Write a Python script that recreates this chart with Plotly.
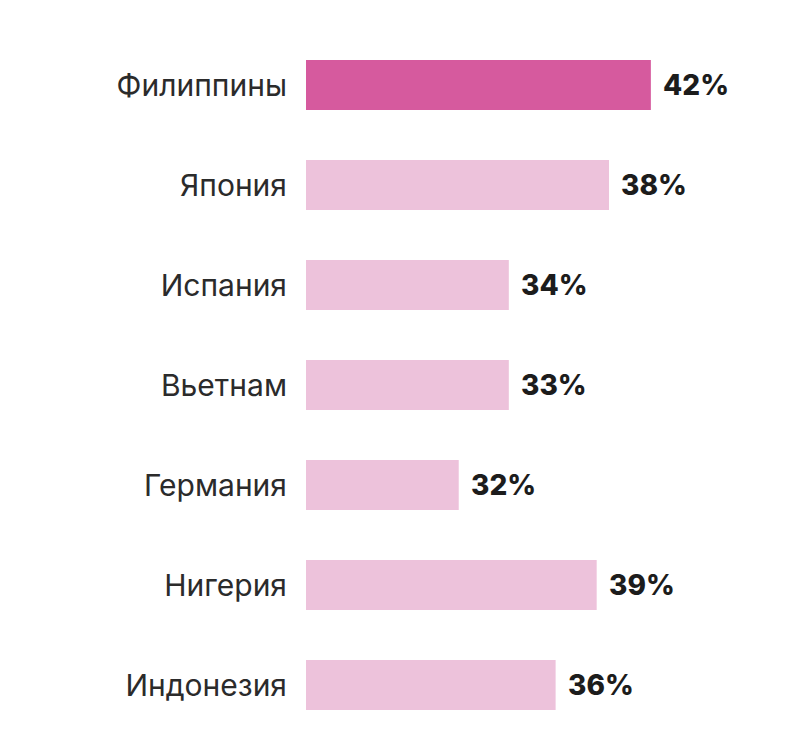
import plotly.graph_objects as go

countries = ["Филиппины", "Япония", "Испания", "Вьетнам", "Германия", "Нигерия", "Индонезия"]
labels = ["42%", "38%", "34%", "33%", "32%", "39%", "36%"]
# bar lengths as drawn in the picture (scaled so that the first bar = 42)
bar_lengths = [42, 36.9, 24.7, 24.7, 18.6, 35.4, 30.4]
highlight = [True, False, False, False, False, False, False]

dark = "#D65A9E"
light = "#EDC2DB"
colors = [dark if h else light for h in highlight]

fig = go.Figure()
fig.add_trace(go.Bar(
    x=bar_lengths, y=countries, orientation="h",
    marker=dict(color=colors, line=dict(width=0)),
    hoverinfo="skip",
))

for c, v, t in zip(countries, bar_lengths, labels):
    fig.add_annotation(x=v, y=c, text=t, showarrow=False, xanchor="left",
                       xshift=10, font=dict(family="Inter", size=28, color="#1c1c1c", weight=800))

fig.update_layout(
    width=788, height=746,
    margin=dict(l=306, r=0, t=35, b=11),
    paper_bgcolor="white", plot_bgcolor="white",
    bargap=0.5, showlegend=False,
    xaxis=dict(range=[0, 58.7], visible=False, fixedrange=True),
    yaxis=dict(autorange="reversed", showgrid=False, zeroline=False, showline=False,
               ticks="", ticklabelstandoff=18,
               tickfont=dict(family="Inter", size=30, color="#2b2b2b")),
)

fig.write_html("out.html")
